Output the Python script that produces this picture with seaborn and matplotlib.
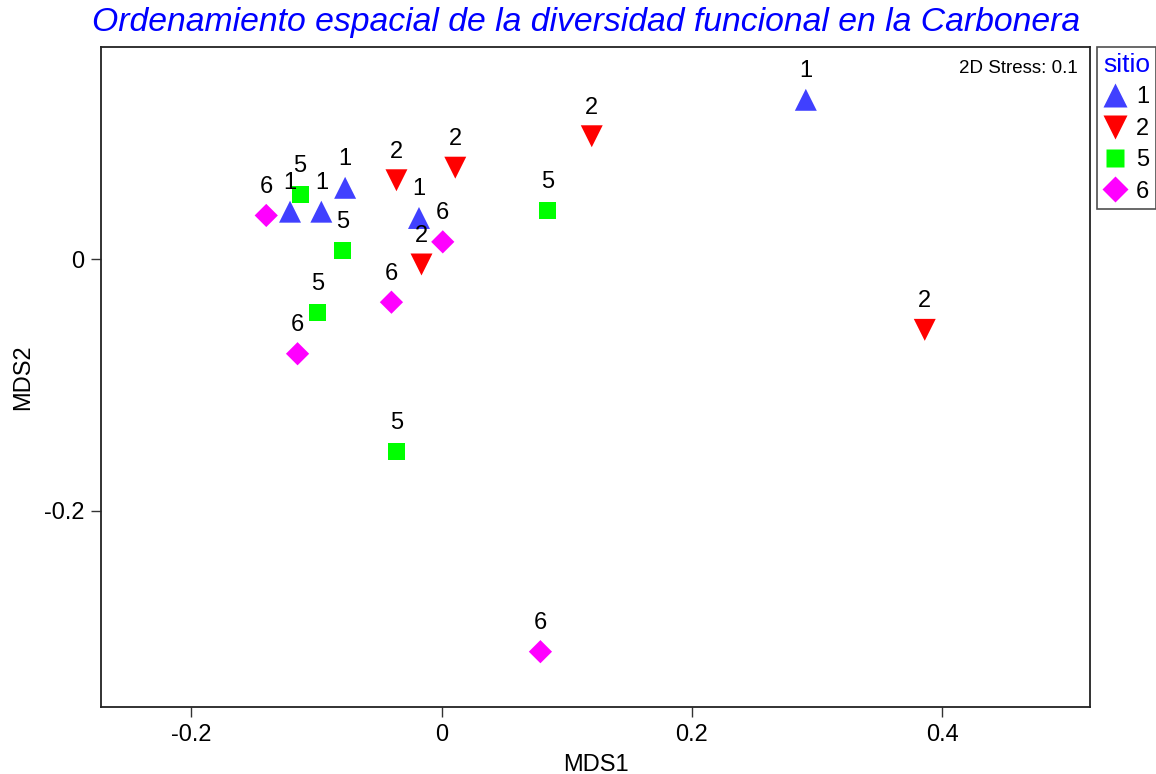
import matplotlib
matplotlib.use("Agg")
import matplotlib.pyplot as plt
import seaborn as sns
import pandas as pd

sns.set_style("white")
plt.rcParams["font.family"] = ["Liberation Sans", "DejaVu Sans"]
plt.rcParams["text.color"] = "black"
plt.rcParams["axes.labelcolor"] = "black"
plt.rcParams["xtick.color"] = "black"
plt.rcParams["ytick.color"] = "black"

# NMDS scores per plot, grouped by site
sitio = ["1"] * 5 + ["2"] * 5 + ["5"] * 5 + ["6"] * 5
mds1 = [0.291, -0.077, -0.121, -0.096, -0.018,
        0.120, 0.011, -0.036, -0.016, 0.386,
        -0.113, 0.085, -0.079, -0.099, -0.036,
        -0.140, 0.001, -0.040, -0.115, 0.079]
mds2 = [0.127, 0.057, 0.038, 0.038, 0.033,
        0.098, 0.073, 0.063, -0.004, -0.056,
        0.052, 0.039, 0.007, -0.042, -0.153,
        0.035, 0.014, -0.034, -0.075, -0.312]

df = pd.DataFrame({"MDS1": mds1, "MDS2": mds2, "sitio": sitio})

palette = {"1": "#4040FF", "2": "#FF0000", "5": "#00FF00", "6": "#FF00FF"}
markers = {"1": "^", "2": "v", "5": "s", "6": "D"}
sizes = {"1": 250, "2": 250, "5": 150, "6": 140}

fig = plt.figure(figsize=(11.56, 7.74), dpi=100)
ax = fig.add_axes([101 / 1156, 1 - 707 / 774, (1090 - 101) / 1156, (707 - 47) / 774])

sns.scatterplot(data=df, x="MDS1", y="MDS2", hue="sitio", style="sitio",
                size="sitio", sizes=sizes, palette=palette, markers=markers,
                edgecolor="none", hue_order=["1", "2", "5", "6"], ax=ax)

for x, y, lab in zip(mds1, mds2, sitio):
    ax.annotate(lab, (x, y), xytext=(0, 20.5), textcoords="offset points",
                ha="center", va="center", fontsize=17, color="black")

ax.set_xlim(-0.272, 0.518)
ax.set_ylim(-0.356, 0.169)
ax.set_xticks([-0.2, 0, 0.2, 0.4])
ax.set_xticklabels(["-0.2", "0", "0.2", "0.4"])
ax.set_yticks([-0.2, 0])
ax.set_yticklabels(["-0.2", "0"])
ax.tick_params(axis="both", direction="out", length=7, width=1, labelsize=17,
               bottom=True, left=True, color="#333333", pad=5)
for sp in ax.spines.values():
    sp.set_color("#222222")
    sp.set_linewidth(1.3)

ax.set_xlabel("MDS1", fontsize=17, labelpad=6)
ax.set_ylabel("MDS2", fontsize=17, labelpad=7)

ax.text(0.988, 0.967, "2D Stress: 0.1", transform=ax.transAxes,
        ha="right", va="center", fontsize=13.5)

fig.text(0.507, 0.971, "Ordenamiento espacial de la diversidad funcional en la Carbonera",
         ha="center", va="center", fontsize=24.3, style="italic", color="#0000FF")

handles, labels = ax.get_legend_handles_labels()
leg = ax.legend(handles, labels, title="sitio", loc="upper left",
                bbox_to_anchor=(1.007, 1.0), frameon=True, fontsize=17,
                title_fontsize=19, markerscale=1.1, handletextpad=0.4,
                borderpad=0.25, labelspacing=0.4, handlelength=1.0,
                borderaxespad=0, fancybox=False)
leg.get_title().set_color("#0000FF")
leg.get_frame().set_edgecolor("#222222")
leg.get_frame().set_linewidth(1.2)

fig.savefig("out.png", dpi=100)
